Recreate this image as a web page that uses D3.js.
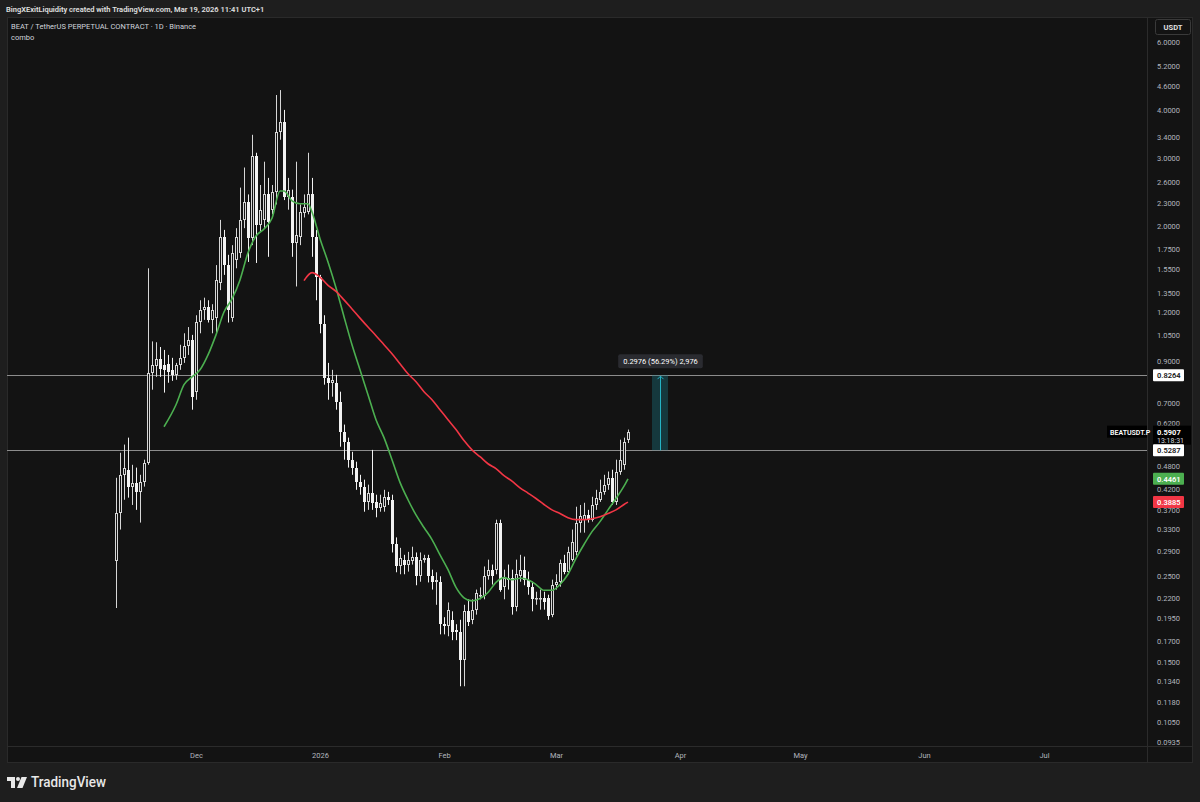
<!DOCTYPE html>
<html><head><meta charset="utf-8">
<script src="https://cdn.jsdelivr.net/npm/d3@7"></script>
<style>html,body{margin:0;padding:0;background:#1e1e1e;}svg{display:block}</style>
</head><body>
<svg id="c" width="1200" height="802"></svg>
<script>
// ---------------- DATA ----------------
const firstCandleDate = "2025-11-11";
const opens = [0.273,0.365,0.457,0.471,0.426,0.436,0.413,0.438,0.491,0.838,
0.874,0.910,0.880,0.884,0.853,0.828,0.879,0.916,0.98,1.02,
0.749,1.135,1.22,1.24,1.148,1.16,1.43,1.88,1.59,1.16,
1.64,1.71,2.08,2.31,1.87,3.04,2.02,2.08,2.42,2.21,
2.45,3.51,3.73,2.38,2.38,1.81,1.88,2.17,2.18,2.42,
1.88,1.48,1.12,0.814,0.79,0.79,0.706,0.588,0.557,0.500,
0.477,0.438,0.426,0.389,0.411,0.389,0.376,0.378,0.401,0.394,
0.302,0.265,0.276,0.268,0.273,0.281,0.250,0.276,0.279,0.250,
0.242,0.242,0.188,0.186,0.193,0.182,0.179,0.152,0.203,0.193,
0.205,0.222,0.222,0.250,0.260,0.260,0.344,0.234,0.248,0.248,
0.208,0.250,0.260,0.245,0.234,0.218,0.220,0.220,0.220,0.199,
0.238,0.241,0.271,0.257,0.276,0.288,0.344,0.350,0.360,0.350,
0.382,0.394,0.413,0.431,0.449,0.389,0.466,0.485,0.563];
const highs = [0.449,0.521,0.547,0.570,0.485,0.477,0.457,0.500,1.56,1.01,
1.005,0.977,0.96,0.932,0.916,0.889,0.99,1.06,1.10,1.05,
1.18,1.29,1.31,1.29,1.26,1.59,2.08,1.96,1.69,1.79,
1.98,2.52,2.84,2.42,3.45,3.10,2.56,2.94,2.67,2.56,
4.37,4.50,4.00,2.67,2.49,2.94,2.28,2.42,3.10,2.67,
1.96,1.50,1.18,0.889,0.853,0.828,0.749,0.616,0.570,0.524,
0.494,0.457,0.444,0.431,0.530,0.406,0.406,0.418,0.413,0.406,
0.315,0.296,0.284,0.289,0.298,0.288,0.288,0.284,0.284,0.260,
0.256,0.250,0.196,0.214,0.203,0.188,0.193,0.211,0.218,0.218,
0.231,0.234,0.265,0.276,0.268,0.350,0.350,0.260,0.268,0.260,
0.276,0.284,0.281,0.257,0.242,0.228,0.231,0.228,0.224,0.245,
0.253,0.276,0.284,0.298,0.330,0.378,0.382,0.387,0.371,0.401,
0.418,0.444,0.457,0.466,0.471,0.500,0.563,0.570,0.598];
const lows = [0.207,0.330,0.394,0.399,0.382,0.371,0.344,0.426,0.485,0.758,
0.818,0.818,0.745,0.79,0.799,0.804,0.853,0.889,0.932,0.673,
0.714,1.06,1.148,1.13,1.06,1.06,1.37,1.50,1.13,1.135,
1.56,1.66,1.98,1.62,1.79,1.61,1.94,1.98,1.67,2.15,
2.28,3.35,2.34,2.21,1.67,1.40,1.79,2.11,2.15,1.67,
1.29,1.06,0.781,0.714,0.727,0.673,0.540,0.500,0.477,0.457,
0.418,0.406,0.367,0.371,0.371,0.355,0.367,0.367,0.382,0.288,
0.256,0.253,0.253,0.257,0.268,0.237,0.242,0.271,0.241,0.231,
0.211,0.177,0.177,0.175,0.171,0.171,0.130,0.130,0.186,0.188,
0.199,0.218,0.218,0.245,0.238,0.253,0.228,0.218,0.231,0.199,
0.203,0.242,0.237,0.224,0.203,0.211,0.205,0.205,0.193,0.196,
0.231,0.235,0.253,0.253,0.273,0.283,0.324,0.324,0.344,0.346,
0.371,0.389,0.406,0.418,0.382,0.382,0.457,0.471,0.552];
const closes = [0.365,0.457,0.477,0.426,0.436,0.413,0.438,0.491,0.838,0.879,
0.910,0.858,0.853,0.843,0.828,0.879,0.916,0.98,1.02,0.727,
1.135,1.22,1.24,1.148,1.22,1.456,1.88,1.59,1.22,1.71,
1.88,2.08,2.31,1.87,3.04,2.02,2.21,2.42,2.05,2.45,
3.51,3.73,2.38,2.49,1.81,1.90,2.18,2.25,2.42,1.88,
1.48,1.12,0.814,0.79,0.804,0.706,0.588,0.557,0.500,0.477,
0.438,0.426,0.389,0.411,0.387,0.376,0.387,0.401,0.394,0.302,
0.265,0.279,0.268,0.276,0.281,0.250,0.276,0.279,0.250,0.242,
0.245,0.188,0.186,0.205,0.179,0.179,0.152,0.203,0.191,0.205,
0.227,0.224,0.250,0.260,0.250,0.344,0.231,0.248,0.245,0.208,
0.253,0.260,0.245,0.234,0.218,0.220,0.220,0.215,0.197,0.238,
0.241,0.271,0.257,0.288,0.306,0.344,0.357,0.360,0.350,0.382,
0.399,0.413,0.431,0.449,0.389,0.466,0.500,0.557,0.5907];

const greenMaDates = ["2025-11-23","2025-11-26","2025-11-28","2025-11-30","2025-12-02","2025-12-04","2025-12-06","2025-12-08","2025-12-10","2025-12-12","2025-12-14","2025-12-16","2025-12-18","2025-12-20","2025-12-22","2025-12-23","2025-12-25","2025-12-27","2025-12-29","2025-12-30","2026-01-01","2026-01-03","2026-01-05","2026-01-07","2026-01-09","2026-01-11","2026-01-13","2026-01-15","2026-01-17","2026-01-19","2026-01-21","2026-01-23","2026-01-25","2026-01-27","2026-01-29","2026-01-31","2026-02-02","2026-02-04","2026-02-06","2026-02-08","2026-02-10","2026-02-12","2026-02-14","2026-02-16","2026-02-18","2026-02-20","2026-02-22","2026-02-24","2026-02-26","2026-02-28","2026-03-02","2026-03-04","2026-03-06","2026-03-08","2026-03-10","2026-03-12","2026-03-14","2026-03-16","2026-03-18","2026-03-19"];
const greenMaValues = [0.608,0.693,0.781,0.818,0.853,0.932,1.05,1.203,1.30,1.456,1.71,1.89,1.97,2.10,2.47,2.47,2.33,2.29,2.29,2.18,1.86,1.62,1.39,1.17,0.99,0.853,0.736,0.634,0.570,0.500,0.437,0.394,0.360,0.334,0.311,0.284,0.260,0.234,0.220,0.216,0.219,0.227,0.241,0.248,0.245,0.247,0.245,0.238,0.230,0.230,0.238,0.253,0.278,0.302,0.326,0.346,0.371,0.397,0.427,0.446];

const redMaDates = ["2025-12-28","2025-12-30","2026-01-01","2026-01-03","2026-01-05","2026-01-07","2026-01-09","2026-01-11","2026-01-13","2026-01-15","2026-01-17","2026-01-19","2026-01-21","2026-01-23","2026-01-25","2026-01-27","2026-01-29","2026-01-31","2026-02-02","2026-02-04","2026-02-06","2026-02-08","2026-02-10","2026-02-12","2026-02-14","2026-02-16","2026-02-18","2026-02-20","2026-02-22","2026-02-24","2026-02-26","2026-02-28","2026-03-02","2026-03-04","2026-03-06","2026-03-08","2026-03-10","2026-03-12","2026-03-14","2026-03-16","2026-03-18","2026-03-19"];
const redMaValues = [1.45,1.52,1.48,1.41,1.36,1.293,1.225,1.16,1.10,1.045,0.99,0.938,0.884,0.833,0.795,0.749,0.714,0.673,0.634,0.598,0.560,0.530,0.509,0.488,0.474,0.455,0.440,0.423,0.410,0.397,0.383,0.371,0.363,0.354,0.350,0.350,0.352,0.356,0.363,0.371,0.383,0.3885];

const priceTicks = [6.0,5.2,4.6,4.0,3.4,3.0,2.6,2.3,2.0,1.75,1.55,1.35,1.2,1.05,0.9,0.7,0.62,0.48,0.42,0.37,0.33,0.29,0.25,0.22,0.195,0.17,0.15,0.134,0.118,0.105,0.0935];
const timeTickDates = ["2025-12-01","2026-01-01","2026-02-01","2026-03-01","2026-04-01","2026-05-01","2026-06-01","2026-07-01"];
const timeTickLabels = ["Dec","2026","Feb","Mar","Apr","May","Jun","Jul"];

const levelPrices = [0.8264, 0.5287];
const lastPrice = 0.5907;
const greenLast = 0.4461, redLast = 0.3885;
const measureDates = ["2026-03-25","2026-03-29"];
const measurePrices = [0.5287, 0.8264];
const measureLabel = "0.2976 (56.29%) 2,976";
const countdown = "13:18:31";
const symbolName = "BEATUSDT.P";
const headerText = "BingXExitLiquidity created with TradingView.com, Mar 19, 2026 11:41 UTC+1";
const titleText = "BEAT / TetherUS PERPETUAL CONTRACT · 1D · Binance";
const subTitle = "combo";

// ---------------- CHART ----------------
const parse = d3.utcParse("%Y-%m-%d");
const FONT = "Roboto, 'Noto Sans', sans-serif";
const svg = d3.select("#c");
const W = 1200, H = 802;
const paneL = 7, paneT = 17, paneR = 1193, paneB = 763;
const plotR = 1147, plotB = 746;
const BG = "#131313";

svg.append("rect").attr("width", W).attr("height", H).attr("fill", "#1e1e1e");
svg.append("rect").attr("x", paneL + 0.5).attr("y", paneT + 0.5)
  .attr("width", paneR - paneL - 1).attr("height", paneB - paneT - 1)
  .attr("fill", BG).attr("stroke", "#2a2a2a");
svg.append("line").attr("x1", plotR + 0.5).attr("x2", plotR + 0.5).attr("y1", paneT).attr("y2", paneB).attr("stroke", "#2b2b2b");
svg.append("line").attr("x1", paneL).attr("x2", paneR).attr("y1", plotB + 0.5).attr("y2", plotB + 0.5).attr("stroke", "#2b2b2b");

const x = d3.scaleUtc().domain([parse("2025-12-01"), parse("2026-07-01")]).range([196, 1044]);
const y = d3.scaleLog().domain([6, 0.0935]).range([41.7, 741.7]);

svg.append("defs").append("clipPath").attr("id", "plotclip")
  .append("rect").attr("x", paneL).attr("y", paneT).attr("width", plotR - paneL).attr("height", plotB - paneT);
const plot = svg.append("g").attr("clip-path", "url(#plotclip)");

// horizontal levels
plot.selectAll("line.lvl").data(levelPrices).join("line")
  .attr("x1", paneL).attr("x2", plotR)
  .attr("y1", d => Math.round(y(d)) + 0.5).attr("y2", d => Math.round(y(d)) + 0.5)
  .attr("stroke", "#8c8c8c").attr("stroke-width", 1);

// candles
const start = parse(firstCandleDate);
const candles = closes.map((c, i) => ({
  date: d3.utcDay.offset(start, i), o: opens[i], h: highs[i], l: lows[i], c: c
}));
const cg = plot.append("g");
candles.forEach(d => {
  const cx = Math.round(x(d.date));
  const up = d.c >= d.o;
  const col = up ? "#d6d6d6" : "#f2f2f2";
  cg.append("line").attr("x1", cx + 0.5).attr("x2", cx + 0.5)
    .attr("y1", y(d.h)).attr("y2", y(d.l)).attr("stroke", col).attr("stroke-width", 1);
  const top = Math.round(y(Math.max(d.o, d.c)));
  const bot = Math.max(top + 1, Math.round(y(Math.min(d.o, d.c))));
  if (up) {
    cg.append("rect").attr("x", cx - 0.5).attr("y", top + 0.5)
      .attr("width", 2).attr("height", Math.max(0.5, bot - top - 1))
      .attr("fill", BG).attr("stroke", col).attr("stroke-width", 1);
  } else {
    cg.append("rect").attr("x", cx - 1).attr("y", top)
      .attr("width", 3).attr("height", bot - top).attr("fill", col);
  }
});

// moving averages
const line = d3.line().x(d => x(d[0])).y(d => y(d[1])).curve(d3.curveMonotoneX);
plot.append("path").datum(greenMaDates.map((d, i) => [parse(d), greenMaValues[i]]))
  .attr("d", line).attr("fill", "none").attr("stroke", "#4caf50").attr("stroke-width", 1.6);
plot.append("path").datum(redMaDates.map((d, i) => [parse(d), redMaValues[i]]))
  .attr("d", line).attr("fill", "none").attr("stroke", "#f23645").attr("stroke-width", 1.6);

// measurement box
const mx0 = x(parse(measureDates[0])), mx1 = x(parse(measureDates[1]));
const my0 = y(measurePrices[0]), my1 = y(measurePrices[1]);
plot.append("rect").attr("x", mx0).attr("y", my1).attr("width", mx1 - mx0).attr("height", my0 - my1)
  .attr("fill", "#1b7f8c").attr("fill-opacity", 0.35);
const mcx = Math.round((mx0 + mx1) / 2) + 0.5;
plot.append("line").attr("x1", mcx).attr("x2", mcx).attr("y1", my0).attr("y2", my1 + 1)
  .attr("stroke", "#25b3c4").attr("stroke-width", 1);
plot.append("path").attr("d", `M${mcx - 3},${my1 + 4} L${mcx},${my1 + 1} L${mcx + 3},${my1 + 4}`)
  .attr("fill", "none").attr("stroke", "#25b3c4").attr("stroke-width", 1);
const lblG = svg.append("g");
const lblText = lblG.append("text").attr("x", mcx).attr("y", my1 - 11)
  .attr("text-anchor", "middle").attr("font-family", FONT).attr("font-size", 7.5)
  .attr("fill", "#ffffff").text(measureLabel);
const bb = lblText.node().getBBox();
lblG.insert("rect", "text").attr("x", bb.x - 5).attr("y", my1 - 21).attr("width", bb.width + 10).attr("height", 14)
  .attr("rx", 2).attr("fill", "#2a2b30");

// price axis
const yAxis = d3.axisRight(y).tickValues(priceTicks).tickFormat(d3.format(".4f")).tickSize(0).tickPadding(0);
const ya = svg.append("g").attr("transform", `translate(1157,0)`).call(yAxis);
ya.select(".domain").remove();
ya.selectAll("text").attr("font-family", FONT).attr("font-size", 7.5).attr("fill", "#b2b5be");

// time axis
const xAxis = d3.axisBottom(x).tickValues(timeTickDates.map(parse))
  .tickFormat((d, i) => timeTickLabels[i]).tickSize(0).tickPadding(0);
const xa = svg.append("g").attr("transform", `translate(0,753)`).call(xAxis);
xa.select(".domain").remove();
xa.selectAll("text").attr("font-family", FONT).attr("font-size", 7.5).attr("fill", "#b2b5be");

// USDT box
svg.append("rect").attr("x", 1155.5).attr("y", 19.5).attr("width", 35).attr("height", 15).attr("rx", 2)
  .attr("fill", BG).attr("stroke", "#3a3a3a");
svg.append("text").attr("x", 1173).attr("y", 30).attr("text-anchor", "middle")
  .attr("font-family", FONT).attr("font-size", 7.5).attr("font-weight", 700).attr("fill", "#e0e0e0").text("USDT");

// price badges
function badge(price, fill, textCol, label) {
  const cy = y(price);
  svg.append("rect").attr("x", 1153).attr("y", cy - 6).attr("width", 31).attr("height", 12)
    .attr("rx", 1).attr("fill", fill);
  svg.append("text").attr("x", 1157).attr("y", cy + 3).attr("font-family", FONT).attr("font-size", 7.5)
    .attr("font-weight", 600).attr("fill", textCol).text(label);
}
badge(levelPrices[0], "#ffffff", "#131313", d3.format(".4f")(levelPrices[0]));
// last price block
const ly = y(lastPrice);
svg.append("rect").attr("x", 1153).attr("y", ly - 6).attr("width", 38).attr("height", 19).attr("fill", "#000000");
svg.append("text").attr("x", 1157).attr("y", ly + 3).attr("font-family", FONT).attr("font-size", 7.5)
  .attr("font-weight", 700).attr("fill", "#ffffff").text(d3.format(".4f")(lastPrice));
svg.append("text").attr("x", 1157).attr("y", ly + 11).attr("font-family", FONT).attr("font-size", 7)
  .attr("fill", "#d1d4dc").text(countdown);
svg.append("rect").attr("x", 1107).attr("y", ly - 6).attr("width", 40).attr("height", 12).attr("fill", "#000000");
svg.append("text").attr("x", 1110).attr("y", ly + 3).attr("font-family", FONT).attr("font-size", 7)
  .attr("font-weight", 600).attr("fill", "#ffffff").text(symbolName);
badge(levelPrices[1], "#ffffff", "#131313", d3.format(".4f")(levelPrices[1]));
badge(greenLast, "#4caf50", "#ffffff", d3.format(".4f")(greenLast));
badge(redLast, "#f23645", "#ffffff", d3.format(".4f")(redLast));

// header texts
svg.append("text").attr("x", 6).attr("y", 12).attr("font-family", FONT).attr("font-size", 7.5)
  .attr("font-weight", 600).attr("fill", "#e0e0e0").text(headerText);
svg.append("text").attr("x", 11).attr("y", 29).attr("font-family", FONT).attr("font-size", 7.5)
  .attr("fill", "#d1d4dc").text(titleText);
svg.append("text").attr("x", 11).attr("y", 40).attr("font-family", FONT).attr("font-size", 7.5)
  .attr("fill", "#d1d4dc").text(subTitle);

// footer logo
const logo = svg.append("g").attr("fill", "#e8e8e8");
logo.append("path").attr("d", "M7,777 H15 V788 H11 V781 H7 Z");
logo.append("circle").attr("cx", 18).attr("cy", 779).attr("r", 2);
logo.append("path").attr("d", "M21.5,777 H27 L22.5,788 H17 Z");
svg.append("text").attr("x", 31).attr("y", 787).attr("font-family", FONT).attr("font-size", 14)
  .attr("font-weight", 500).attr("fill", "#e8e8e8").attr("textLength", 75).attr("lengthAdjust", "spacingAndGlyphs")
  .text("TradingView");
</script>
</body></html>
